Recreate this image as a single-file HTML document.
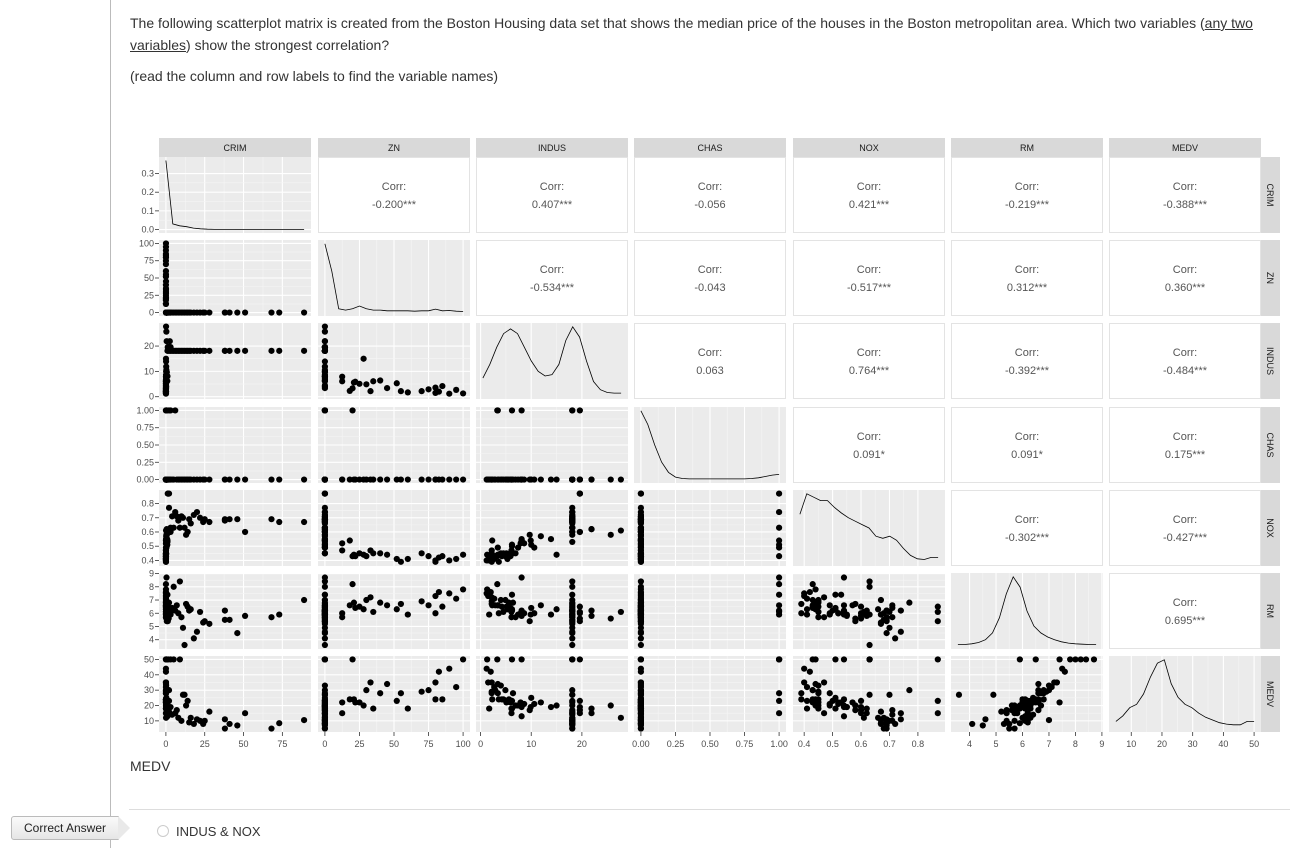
<!DOCTYPE html>
<html><head><meta charset="utf-8">
<style>
body{margin:0;width:1292px;height:848px;background:#fff;font-family:"Liberation Sans",sans-serif;overflow:hidden;position:relative}
.q{position:absolute;left:130px;width:1140px;font-size:14px;color:#333;line-height:22px}
u{text-decoration:underline}
#vline{position:absolute;left:110px;top:0;width:1px;height:848px;background:#bbb}
#sep{position:absolute;left:129px;top:809px;width:1161px;height:1px;background:#ddd}
#ca{position:absolute;left:11px;top:816px;width:106px;height:22px;background:linear-gradient(#fafafa,#e6e6e6);border:1px solid #bbb;border-radius:3px 0 0 3px;font-size:12px;color:#222;line-height:22px;text-align:center}
#ca:after{content:"";position:absolute;right:-12px;top:-1px;border-left:12px solid #e9e9e9;border-top:12px solid transparent;border-bottom:12px solid transparent}
#radio{position:absolute;left:157px;top:825px;width:10px;height:10px;border:1px solid #ccc;border-radius:50%}
#ans{position:absolute;left:176px;top:824px;font-size:13px;color:#333}
#medv{position:absolute;left:130px;top:758px;font-size:14px;color:#333}
svg{position:absolute;left:0;top:0}
</style></head><body>
<div id="vline"></div>
<div class="q" style="top:12px">The following scatterplot matrix is created from the Boston Housing data set that shows the median price of the houses in the Boston metropolitan area. Which two variables (<u>any two</u><br><u>variables</u>) show the strongest correlation?</div>
<div class="q" style="top:65px">(read the column and row labels to find the variable names)</div>
<div id="medv">MEDV</div>
<div id="sep"></div>
<div id="ca">Correct Answer</div>
<div id="radio"></div>
<div id="ans">INDUS &amp; NOX</div>
<svg id="chart" width="1292" height="848"></svg>
<script>
const varNames=["CRIM","ZN","INDUS","CHAS","NOX","RM","MEDV"];
const varMin=[0.006,0,0.46,0,0.385,3.56,5];
const varMax=[89,100,27.74,1,0.871,8.78,50];
const tickVals=[[0,25,50,75],[0,25,50,75,100],[0,10,20],[0,0.25,0.5,0.75,1],[0.4,0.5,0.6,0.7,0.8],[4,5,6,7,8,9],[10,20,30,40,50]];
const tickLabels=[["0","25","50","75"],["0","25","50","75","100"],["0","10","20"],["0.00","0.25","0.50","0.75","1.00"],["0.4","0.5","0.6","0.7","0.8"],["4","5","6","7","8","9"],["10","20","30","40","50"]];
const densTicks=[0,0.1,0.2,0.3];
const densTickLabels=["0.0","0.1","0.2","0.3"];
const corrLabels={"0-1":"-0.200***","0-2":"0.407***","0-3":"-0.056","0-4":"0.421***","0-5":"-0.219***","0-6":"-0.388***","1-2":"-0.534***","1-3":"-0.043","1-4":"-0.517***","1-5":"0.312***","1-6":"0.360***","2-3":"0.063","2-4":"0.764***","2-5":"-0.392***","2-6":"-0.484***","3-4":"0.091*","3-5":"0.091*","3-6":"0.175***","4-5":"-0.302***","4-6":"-0.427***","5-6":"0.695***"};
const densCRIM=[0.37,0.03,0.02,0.015,0.008,0.004,0.002,0.001,0.001,0.001,0.0008,0.0005,0.0003,0.0003,0.0002,0.0002,0.0002,0.0001,0.0001,0.0001,0.0001];
const densZN=[1,0.6,0.05,0.03,0.05,0.09,0.05,0.03,0.03,0.02,0.02,0.02,0.02,0.015,0.02,0.02,0.045,0.02,0.025,0.015,0.01];
const densINDUS=[0.25,0.45,0.7,0.9,0.97,0.9,0.7,0.5,0.35,0.28,0.3,0.45,0.8,1.0,0.85,0.5,0.2,0.08,0.04,0.03,0.03];
const densCHAS=[1,0.8,0.5,0.25,0.1,0.03,0.01,0.005,0.005,0.005,0.005,0.005,0.005,0.005,0.005,0.005,0.01,0.02,0.04,0.06,0.07];
const densNOX=[0.7,1.0,0.95,0.9,0.9,0.8,0.72,0.65,0.6,0.55,0.5,0.38,0.35,0.38,0.32,0.2,0.1,0.05,0.04,0.07,0.07];
const densRM=[0.01,0.01,0.02,0.04,0.08,0.18,0.4,0.75,1.0,0.85,0.5,0.28,0.18,0.12,0.08,0.05,0.03,0.02,0.015,0.01,0.01];
const densMEDV=[0.1,0.18,0.3,0.35,0.5,0.75,0.95,1.0,0.65,0.45,0.35,0.3,0.22,0.16,0.12,0.08,0.06,0.05,0.05,0.1,0.1];
const densities=[densCRIM,densZN,densINDUS,densCHAS,densNOX,densRM,densMEDV];
const obsCRIM=[0.01,0.03,0.02,0.01,0.05,0.02,0.04,0.03,0.06,0.02,0.03,0.04,0.06,0.05,0.02,0.07,0.01,0.05,0.03,0.02,0.04,0.02,0.03,0.01,0.05,0.1,0.2,0.5,0.8,0.3,0.15,0.07,0.6,0.1,0.5,1.2,2.0,3.0,1.5,0.3,0.1,0.2,0.4,0.2,0.6,1.0,0.05,0.1,0.3,4,8,10,15,20,24,13,7,5,9,18,11,14,25,28,38,38,41,46,51,68,73,89,6,3,12,1,2,0.5,0.9,1.8,2.5,16,22];
const obsZN=[18,12.5,75,80,100,90,95,25,21,20,22,30,33,35,40,45,52,55,60,70,80,85,82.5,12.5,28,0,0,0,0,0,0,0,0,0,0,0,0,0,0,0,0,0,0,0,0,0,0,0,0,0,0,0,0,0,0,0,0,0,0,0,0,0,0,0,0,0,0,0,0,0,0,0,0,0,0,0,0,0,0,0,0,0,0];
const obsINDUS=[2.3,7.9,2.9,1.5,1.3,1.2,2.7,5.1,5.6,3.3,5.9,4.9,2.2,6.1,6.4,3.4,5.3,2.2,1.7,2.2,3.6,4.2,2.0,6.1,15.0,8.6,9.9,6.2,8.1,10.0,4.0,3.4,6.2,13.9,21.9,19.6,19.6,19.6,19.6,25.7,27.7,11.9,8.1,7.4,9.7,8.1,4.5,6.9,10.6,18.1,18.1,18.1,18.1,18.1,18.1,18.1,18.1,18.1,18.1,18.1,18.1,18.1,18.1,18.1,18.1,18.1,18.1,18.1,18.1,18.1,18.1,18.1,18.1,18.1,18.1,18.1,18.1,8.1,6.2,19.6,21.9,18.1,18.1];
const obsCHAS=[0,0,0,0,0,0,0,0,0,1,0,0,0,0,0,0,0,0,0,0,0,0,0,0,0,0,0,0,0,0,0,1,1,0,0,0,1,0,0,0,0,0,1,0,0,0,0,0,0,0,0,0,0,0,0,0,0,0,0,0,0,0,0,0,0,0,0,0,0,0,0,0,1,1,0,0,0,0,0,0,0,0,0];
const obsNOX=[0.54,0.52,0.43,0.40,0.44,0.40,0.41,0.45,0.44,0.43,0.43,0.43,0.47,0.45,0.45,0.44,0.41,0.39,0.41,0.45,0.39,0.43,0.42,0.47,0.44,0.52,0.54,0.50,0.55,0.51,0.45,0.49,0.51,0.55,0.62,0.87,0.87,0.60,0.87,0.58,0.61,0.57,0.54,0.49,0.58,0.54,0.45,0.45,0.49,0.71,0.68,0.71,0.69,0.74,0.67,0.58,0.71,0.63,0.63,0.72,0.70,0.60,0.69,0.67,0.69,0.68,0.69,0.69,0.60,0.69,0.67,0.67,0.74,0.63,0.63,0.53,0.77,0.54,0.51,0.60,0.62,0.66,0.70];
const obsRM=[6.6,6.0,6.6,7.3,7.8,7.5,7.1,6.5,6.8,8.2,6.4,7.0,7.2,6.1,6.8,6.6,6.3,6.7,5.9,6.9,6.0,6.5,7.6,5.7,6.3,6.0,5.9,6.2,5.8,6.4,7.0,6.6,7.4,5.9,5.8,5.4,6.1,6.0,6.5,5.6,6.1,6.6,8.7,5.9,5.4,6.1,6.1,5.7,6.0,6.4,6.0,5.7,6.2,4.6,5.3,6.7,6.6,8.0,8.4,4.1,4.9,6.5,5.4,5.2,6.2,5.5,5.5,4.5,5.8,5.7,5.9,7.0,6.2,5.9,3.6,7.4,6.8,6.2,6.3,5.6,6.2,6.3,6.1];
const obsMEDV=[24,22,30,35,50,44,32,22,24,50,22,30,35,18,28,34,23,28,18,29,24,24,42,15,20,21,19,23,19,25,33,28,50,19,18,15,23,19,50,20,12,22,50,20,17,13,24,20,21,14,12,10,9,11,8,20,17,50,50,8,27,23,10,16,11,5,8,7,15,5,8.5,10.5,15,50,27,22,30,20,18,17,15,12,10];
const obsAll=[obsCRIM,obsZN,obsINDUS,obsCHAS,obsNOX,obsRM,obsMEDV];

const NS="http://www.w3.org/2000/svg";
const svg=document.getElementById("chart");
const colX=[159,318,476,634,793,951,1109], PW=152;
const rowY=[157,240,323,407,490,573,656], PH=76;
function mk(t,a,p){const e=document.createElementNS(NS,t);for(const k in a)e.setAttribute(k,a[k]);(p||svg).appendChild(e);return e;}
function scale(v,i,a,b){const lo=varMin[i],hi=varMax[i],pad=(hi-lo)*0.05;return a+(v-lo+pad)/(hi-lo+2*pad)*(b-a);}
function sx(v,c){return scale(v,c,colX[c],colX[c]+PW);}
function sy(v,r){return scale(v,r,rowY[r]+PH,rowY[r]);}
function grid(c,r,yt,ymap){
  const g=mk("g",{});
  
  
  mk("rect",{x:colX[c],y:rowY[r],width:PW,height:PH,fill:"#ebebeb"},g);
  const xt=tickVals[c];
  for(let k=0;k<xt.length;k++){
    const X=sx(xt[k],c);
    if(k<xt.length-1){const m=sx((xt[k]+xt[k+1])/2,c);mk("line",{x1:m,x2:m,y1:rowY[r],y2:rowY[r]+PH,stroke:"#f5f5f5","stroke-width":0.6},g);}
    mk("line",{x1:X,x2:X,y1:rowY[r],y2:rowY[r]+PH,stroke:"#fff","stroke-width":1.1},g);
  }
  for(let k=0;k<yt.length;k++){
    const Y=ymap(yt[k]);
    if(k<yt.length-1){const m=ymap((yt[k]+yt[k+1])/2);mk("line",{x1:colX[c],x2:colX[c]+PW,y1:m,y2:m,stroke:"#f5f5f5","stroke-width":0.6},g);}
    mk("line",{x1:colX[c],x2:colX[c]+PW,y1:Y,y2:Y,stroke:"#fff","stroke-width":1.1},g);
  }
  return g;
}
for(let i=0;i<7;i++){
  const s=mk("rect",{x:colX[i],y:138,width:PW,height:19,fill:"#d9d9d9"});
  
  
  const t=mk("text",{x:colX[i]+PW/2,y:151,"text-anchor":"middle","font-size":"9","fill":"#1a1a1a"});t.textContent=varNames[i];
  
  
  const s2=mk("rect",{x:1261,y:rowY[i],width:19,height:PH,fill:"#d9d9d9"});
  
  
  const cy=rowY[i]+PH/2;
  const t2=mk("text",{x:1267,y:cy,"text-anchor":"middle","font-size":"9","fill":"#1a1a1a",transform:`rotate(90 1267 ${cy})`});t2.textContent=varNames[i];
  
  
}
for(let r=0;r<7;r++)for(let c=0;c<7;c++){
  if(c>r){
    const g=mk("g",{});
    
    
    mk("rect",{x:colX[c]+0.5,y:rowY[r]+0.5,width:PW-1,height:PH-1,fill:"#fff",stroke:"#e3e3e3"},g);
    const t1=mk("text",{x:colX[c]+PW/2,y:rowY[r]+33,"text-anchor":"middle","font-size":"11",fill:"#555"},g);t1.textContent="Corr:";
    const t2=mk("text",{x:colX[c]+PW/2,y:rowY[r]+51,"text-anchor":"middle","font-size":"11",fill:"#555"},g);t2.textContent=corrLabels[r+"-"+c];
  } else if(c===r){
    const d=densities[c];
    let ymap;
    if(r===0){const lo=-0.0185,hi=0.3885;ymap=v=>rowY[0]+PH-(v-lo)/(hi-lo)*PH;}
    else{const mx=Math.max(...d);ymap=v=>rowY[r]+PH-(0.05+0.9*v/mx)*PH;}
    const g=grid(c,r,r===0?densTicks:[],ymap);
    let p="";
    for(let k=0;k<d.length;k++){const v=varMin[c]+(varMax[c]-varMin[c])*k/(d.length-1);p+=(k?"L":"M")+sx(v,c).toFixed(1)+" "+ymap(d[k]).toFixed(1);}
    const pa=mk("path",{d:p,fill:"none",stroke:"#000","stroke-width":0.8},g);
    
    
  } else {
    const g=grid(c,r,tickVals[r],v=>sy(v,r));
    const xs=obsAll[c],ys=obsAll[r];
    for(let k=0;k<xs.length;k++){
      const pt=mk("circle",{cx:sx(xs[k],c),cy:sy(ys[k],r),r:3.1,fill:"#000"},g);
      
      
    }
  }
}
for(let r=0;r<7;r++){
  const tv=r===0?densTicks:tickVals[r], tl=r===0?densTickLabels:tickLabels[r];
  for(let k=0;k<tv.length;k++){
    const Y=r===0?rowY[0]+PH-(tv[k]+0.0185)/0.407*PH:sy(tv[k],r);
    mk("line",{x1:155,x2:159,y1:Y,y2:Y,stroke:"#333","stroke-width":0.8});
    const t=mk("text",{x:154,y:Y+3,"text-anchor":"end","font-size":"9",fill:"#4d4d4d"});t.textContent=tl[k];
    
    
  }
}
for(let c=0;c<7;c++){
  for(let k=0;k<tickVals[c].length;k++){
    const X=sx(tickVals[c][k],c);
    mk("line",{x1:X,x2:X,y1:732,y2:736,stroke:"#333","stroke-width":0.8});
    const t=mk("text",{x:X,y:747,"text-anchor":"middle","font-size":"9",fill:"#4d4d4d"});t.textContent=tickLabels[c][k];
    
    
  }
}
</script>
</body></html>
